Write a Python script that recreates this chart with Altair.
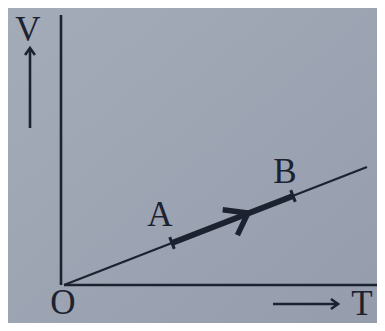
import altair as alt
import pandas as pd
import math

# Schematic V-T diagram values (arbitrary units)
line_T = [0.0, 30.3]          # straight line through origin
line_V = [0.0, 11.8]
seg_names = ["A", "B"]         # process A -> B
seg_T = [10.8, 22.9]
seg_V = [4.2, 8.9]
arrow_T = [18.4]               # direction arrow on A->B
arrow_V = [7.2]
axis_T_end = 31.3
axis_V_end = 27.0

T_dom = [-5.6, 31.3]
V_dom = [-3.8, 27.7]
W, H = 369, 315
INK = "#1c2230"
BG = "#9ea5b3"
FONT = "Liberation Serif"

xs = alt.Scale(domain=T_dom, nice=False, zero=False)
ys = alt.Scale(domain=V_dom, nice=False, zero=False)
X = lambda f: alt.X(f, type="quantitative", scale=xs, axis=None)
Y = lambda f: alt.Y(f, type="quantitative", scale=ys, axis=None)

bg = alt.Chart(pd.DataFrame({"k": [0]})).mark_rect(
    color={"gradient": "linear", "x1": 0, "y1": 0, "x2": 1, "y2": 1,
           "stops": [{"offset": 0, "color": "#a4abb8"},
                     {"offset": 1, "color": "#959dad"}]}
).encode(x=alt.value(0), x2=alt.value(W), y=alt.value(0), y2=alt.value(H))

axes_df = pd.DataFrame({
    "t1": [0.0, -0.3], "v1": [0.0, 0.0],
    "t2": [axis_T_end, -0.3], "v2": [0.0, axis_V_end],
})
axes = alt.Chart(axes_df).mark_rule(color=INK, strokeWidth=2.6).encode(
    x=X("t1"), y=Y("v1"), x2="t2", y2="v2")

line_df = pd.DataFrame({"T": line_T, "V": line_V})
line = alt.Chart(line_df).mark_line(color=INK, strokeWidth=2.3).encode(
    x=X("T"), y=Y("V"))

seg_df = pd.DataFrame({"name": seg_names, "T": seg_T, "V": seg_V})
seg = alt.Chart(seg_df).mark_line(color=INK, strokeWidth=6).encode(
    x=X("T"), y=Y("V"))

ang = 360 - math.degrees(math.atan(line_V[1] / line_T[1]))

ticks = alt.Chart(seg_df).mark_point(
    shape="M0,-1L0,1", size=160, strokeWidth=3, color=INK, filled=False,
    angle=ang, opacity=1
).encode(x=X("T"), y=Y("V"))

arr_df = pd.DataFrame({"T": arrow_T, "V": arrow_V})
arrow = alt.Chart(arr_df).mark_point(
    shape="M-1,-0.55L0,0L-0.8,0.75", size=2000, strokeWidth=5.5, color=INK,
    filled=False, angle=ang, opacity=1, strokeJoin="miter"
).encode(x=X("T"), y=Y("V"))

lab_df = pd.DataFrame({
    "txt": ["A", "B", "O", "T", "V"],
    "T": [9.6, 22.1, -0.1, 29.8, -3.6],
    "V": [7.0, 11.3, -1.8, -1.9, 25.5],
})
labels = alt.Chart(lab_df).mark_text(
    font=FONT, fontSize=35, color=INK, baseline="middle", align="center"
).encode(x=X("T"), y=Y("V"), text="txt")

# axis-direction arrows
dir_df = pd.DataFrame({
    "t1": [-3.4, 20.9], "v1": [15.7, -1.9],
    "t2": [-3.4, 27.3], "v2": [23.6, -1.9],
})
dir_lines = alt.Chart(dir_df).mark_rule(color=INK, strokeWidth=2.6).encode(
    x=X("t1"), y=Y("v1"), x2="t2", y2="v2")
head_df = pd.DataFrame({"T": [-3.4, 27.4], "V": [23.7, -1.9], "a": [270, 0]})
heads = alt.Chart(head_df).mark_point(
    shape="M-1,-0.7L0,0L-1,0.7", size=200, strokeWidth=2.6, color=INK,
    filled=False, opacity=1
).encode(x=X("T"), y=Y("V"), angle=alt.Angle("a:Q", scale=None))

chart = alt.layer(bg, axes, line, seg, ticks, arrow, dir_lines, heads, labels).properties(
    width=W, height=H, background=BG, padding=0,
    autosize=alt.AutoSizeParams(type="none"),
).configure_view(stroke=None)

chart.save("out.html", embed_options={"renderer": "svg", "actions": False})
